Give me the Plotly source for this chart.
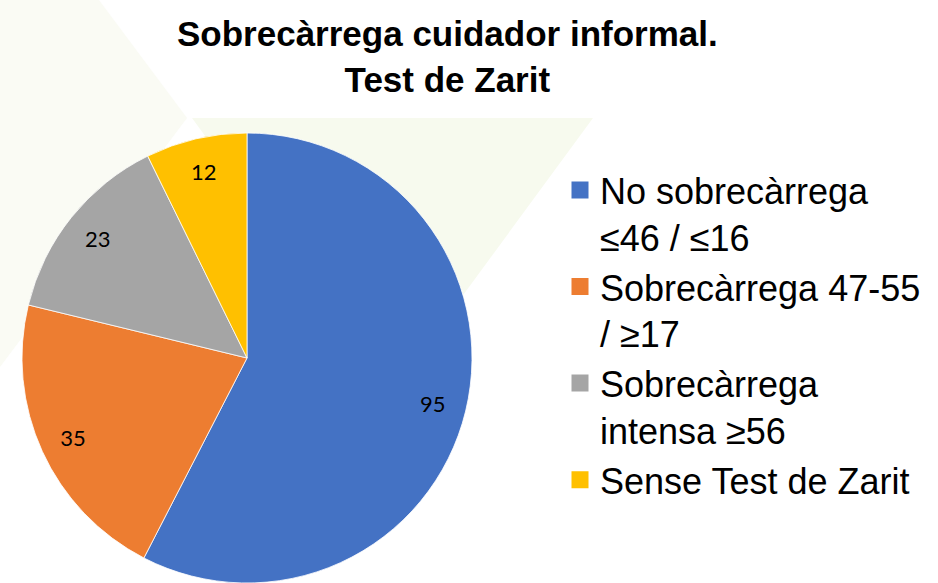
import plotly.graph_objects as go

categories = ["No sobrecàrrega<br>≤46 / ≤16", "Sobrecàrrega 47-55<br>/ ≥17",
              "Sobrecàrrega<br>intensa ≥56", "Sense Test de Zarit"]
values = [95, 35, 23, 12]
colors = ["#4472C4", "#ED7D31", "#A5A5A5", "#FFC000"]
title_lines = ["Sobrecàrrega cuidador informal.", "Test de Zarit"]

W, H = 938, 583

def px(x, y):
    return x / W, 1 - y / H

def path(points):
    pts = [px(x, y) for x, y in points]
    return "M " + " L ".join(f"{a:.4f},{b:.4f}" for a, b in pts) + " Z"

pie_domain = dict(x=[20 / W, 474 / W], y=[0, 1 - 133 / H])
legend_domain = dict(x=[30 / W, 464 / W], y=[10 / H, 1 - 143 / H])

fig = go.Figure()
# pie hidden under the main one: it only feeds the legend (thick same-colour outline -> bigger keys)
fig.add_trace(go.Pie(
    labels=categories, values=values, sort=False, direction="clockwise", rotation=0,
    marker=dict(colors=colors, line=dict(color=colors, width=5)),
    textinfo="none", domain=legend_domain, hoverinfo="skip",
))
fig.add_trace(go.Pie(
    labels=categories, values=values, sort=False, direction="clockwise", rotation=0,
    marker=dict(colors=colors, line=dict(color="white", width=0.8)),
    textinfo="none", domain=pie_domain, hoverinfo="label+value", showlegend=False,
))
# transparent ring used only to place the value labels near the outer edge
fig.add_trace(go.Pie(
    labels=categories, values=values, sort=False, direction="clockwise", rotation=0,
    hole=0.7, showlegend=False, hoverinfo="skip",
    marker=dict(colors=["rgba(0,0,0,0)"] * len(values), line=dict(width=0)),
    textinfo="value", textposition="inside", insidetextorientation="horizontal",
    textfont=dict(family="Lato, Carlito, sans-serif", size=22, color="black"),
    domain=pie_domain,
))

fig.update_layout(
    width=W, height=H,
    margin=dict(l=0, r=0, t=0, b=0),
    paper_bgcolor="white", plot_bgcolor="white",
    annotations=[dict(
        text="<b>" + "<br>".join(title_lines) + "</b>",
        xref="paper", yref="paper", x=447 / W, y=1 - 56 / H,
        xanchor="center", yanchor="middle", showarrow=False,
        font=dict(family="Liberation Sans, Arial, sans-serif", size=35, color="black"),
    )],
    legend=dict(x=560 / W, xanchor="left", y=1 - 160 / H, yanchor="top", valign="top",
                font=dict(family="Liberation Sans, Arial, sans-serif", size=36, color="black"),
                bgcolor="rgba(0,0,0,0)"),
    shapes=[
        dict(type="path", xref="paper", yref="paper", layer="below",
             path=path([(0, 0), (99, 0), (187, 118), (0, 367)]),
             fillcolor="#FAFBF4", line=dict(width=0)),
        dict(type="path", xref="paper", yref="paper", layer="below",
             path=path([(192, 118), (593, 118), (392, 392)]),
             fillcolor="#F7FAEE", line=dict(width=0)),
    ],
)

fig.write_html("out.html", config={"displayModeBar": False},
               post_script="document.body.style.margin='0';")
